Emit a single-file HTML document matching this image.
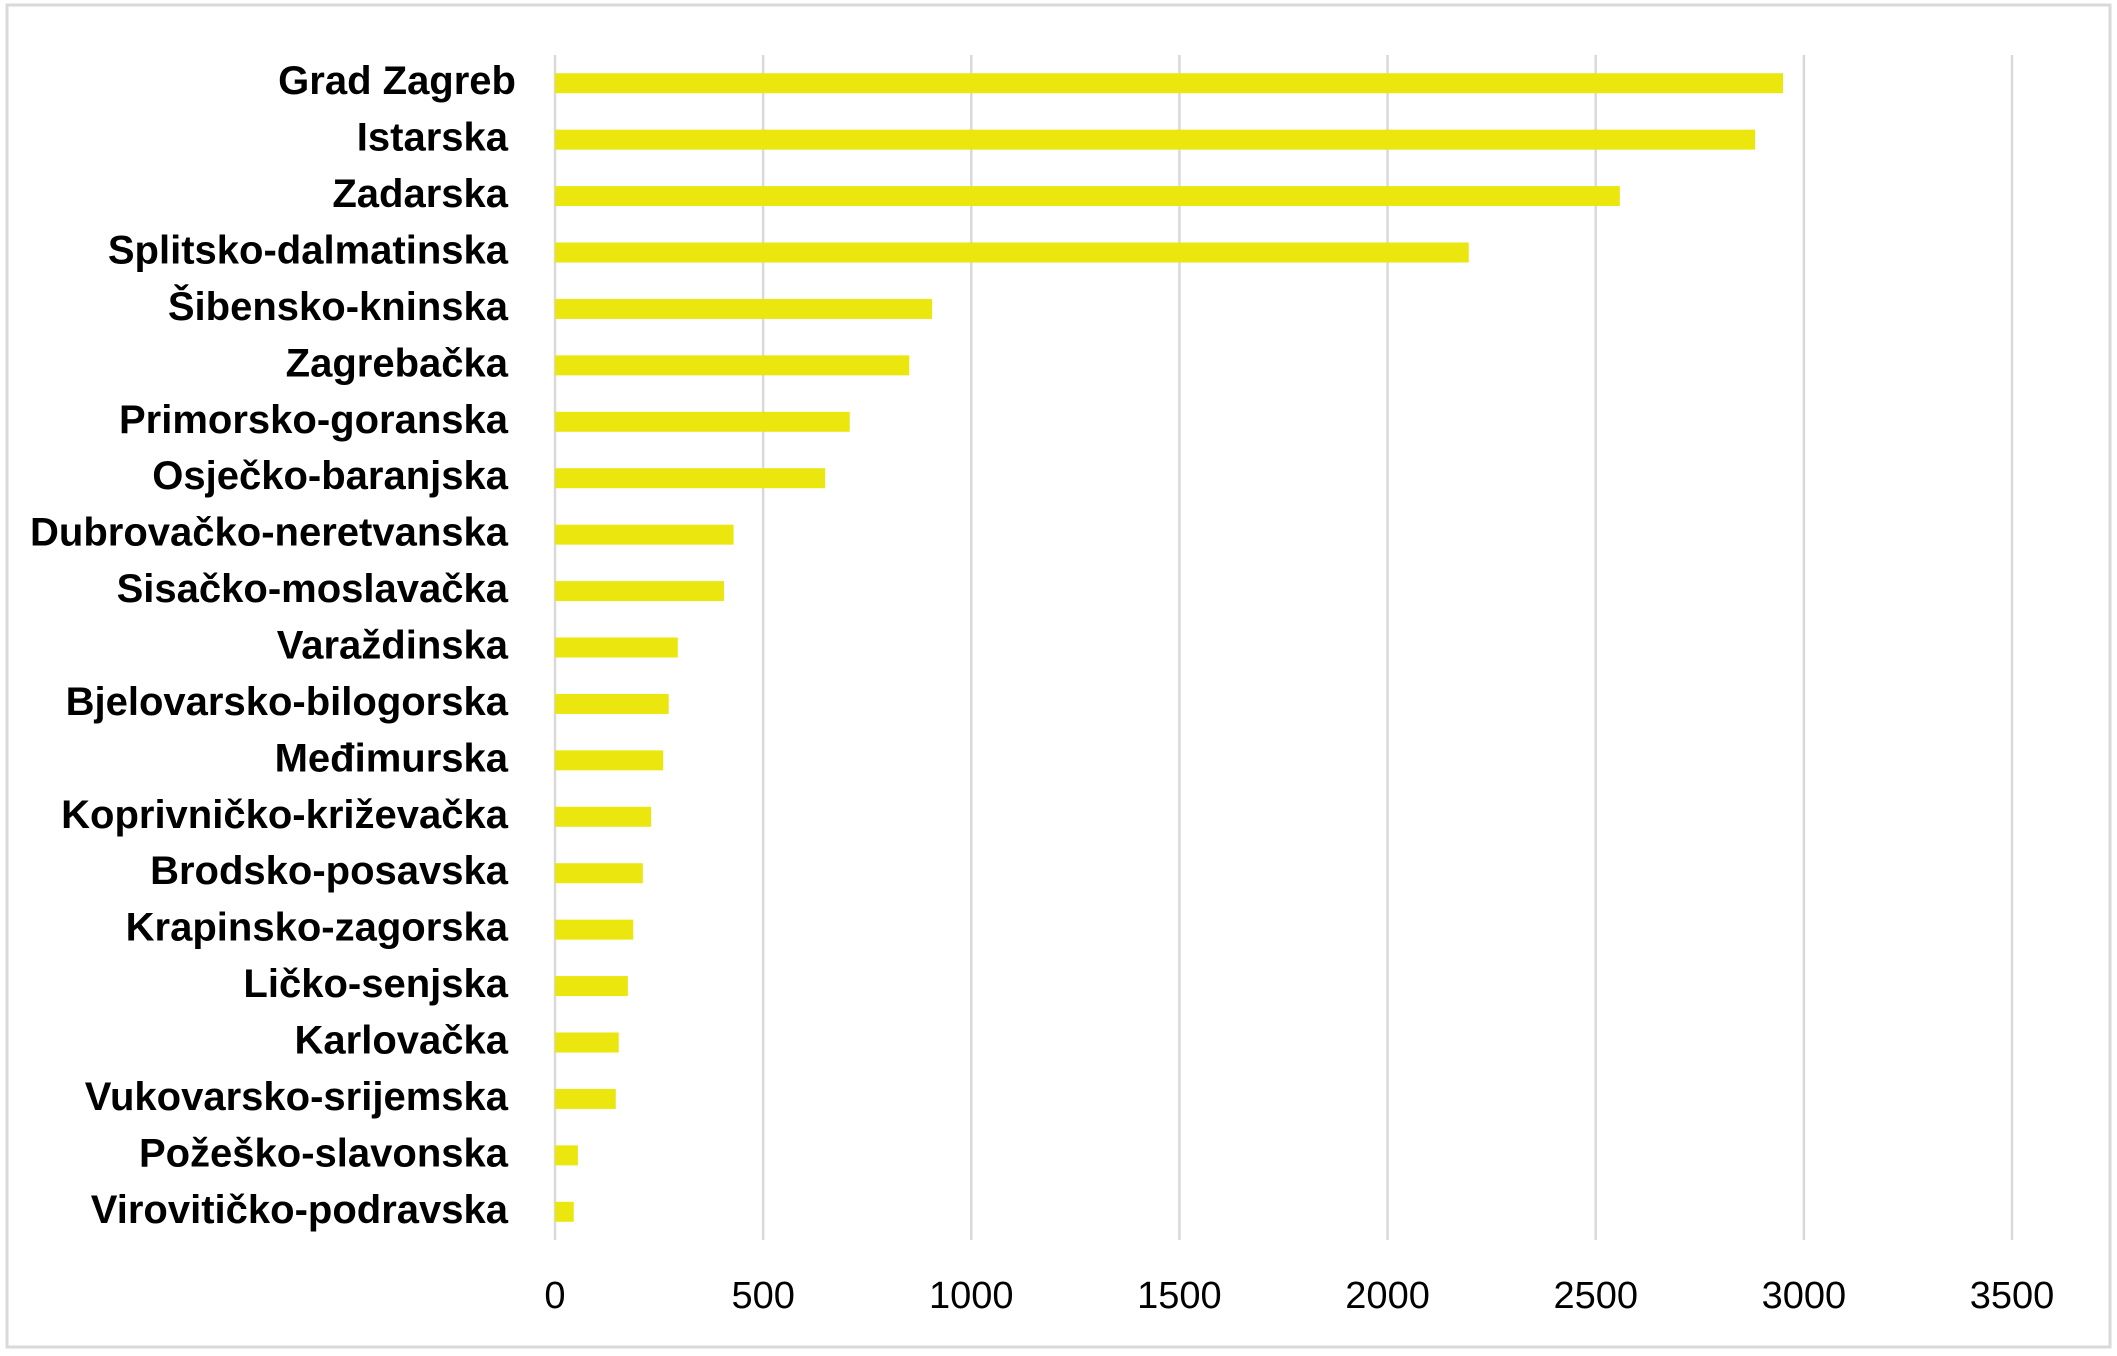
<!DOCTYPE html>
<html><head><meta charset="utf-8"><style>
html,body{margin:0;padding:0;background:#fff;}
svg{display:block;}
</style></head><body>
<svg id="chart" width="2117" height="1356" xmlns="http://www.w3.org/2000/svg">
<rect x="7" y="5" width="2103" height="1342" fill="#fff" stroke="#d9d9d9" stroke-width="3"/>
<g id="grid"></g>
<g id="bars"></g>
<g id="ylabels"></g>
<g id="xlabels"></g>
</svg>
<script>
const categories = ["Grad Zagreb","Istarska","Zadarska","Splitsko-dalmatinska","Šibensko-kninska","Zagrebačka","Primorsko-goranska","Osječko-baranjska","Dubrovačko-neretvanska","Sisačko-moslavačka","Varaždinska","Bjelovarsko-bilogorska","Međimurska","Koprivničko-križevačka","Brodsko-posavska","Krapinsko-zagorska","Ličko-senjska","Karlovačka","Vukovarsko-srijemska","Požeško-slavonska","Virovitičko-podravska"];
const values = [2950,2883,2558,2195,906,851,708,649,429,406,295,273,260,231,211,188,175,153,146,55,45];
const ticks = [0,500,1000,1500,2000,2500,3000,3500];

const NS="http://www.w3.org/2000/svg";
const x0=555, x1=2012, yTop=55, yBot=1240, xMax=3500;
const xs=v=>x0+(v/xMax)*(x1-x0);
const band=(yBot-yTop)/categories.length;
const yc=i=>yTop+band*(i+0.5);
function mk(tag,attrs,parent){const e=document.createElementNS(NS,tag);for(const k in attrs)e.setAttribute(k,attrs[k]);parent.appendChild(e);return e;}
const grid=document.getElementById('grid'),bars=document.getElementById('bars'),yl=document.getElementById('ylabels'),xl=document.getElementById('xlabels');
ticks.forEach(t=>{
  const l=mk('line',{x1:xs(t),x2:xs(t),y1:yTop,y2:yBot,stroke:'#d9d9d9','stroke-width':2.5},grid);
  
  
  const tx=mk('text',{x:xs(t),y:1308,'text-anchor':'middle','font-family':'Liberation Sans, sans-serif','font-size':38,fill:'#000'},xl);
  tx.textContent=t;
  
  
});
categories.forEach((c,i)=>{
  const r=mk('rect',{x:xs(0),y:yc(i)-10,width:xs(values[i])-xs(0),height:20,fill:'#EAE60E'},bars);
  
  
  const tx=mk('text',{x:i===0?516:508,y:yc(i)+11,'text-anchor':'end','font-family':'Liberation Sans, sans-serif','font-weight':'bold','font-size':40,fill:'#000'},yl);
  tx.textContent=c;
  
  
});
</script>
</body></html>
